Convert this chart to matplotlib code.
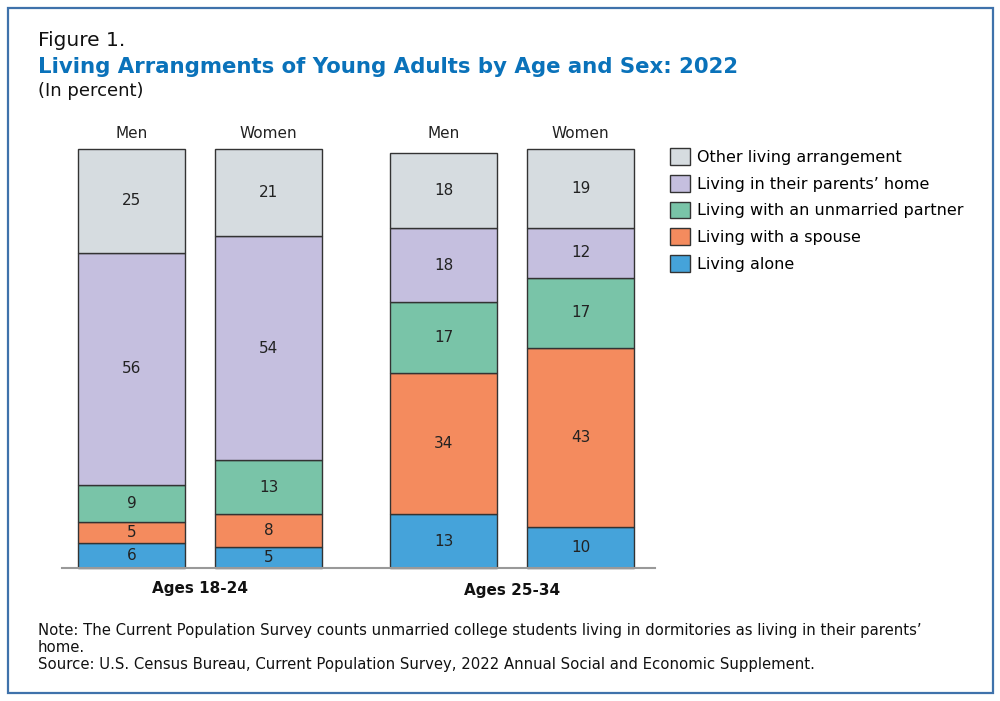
import numpy as np
import matplotlib.pyplot as plt
from matplotlib.patches import Rectangle, Patch

# --- data (percent) ---
bar_labels = ["Men", "Women", "Men", "Women"]
group_labels = ["Ages 18-24", "Ages 25-34"]
categories = ["Living alone", "Living with a spouse", "Living with an unmarried partner",
              "Living in their parents\u2019 home", "Other living arrangement"]
living_alone = [6, 5, 13, 10]
with_spouse = [5, 8, 34, 43]
unmarried_partner = [9, 13, 17, 17]
parents_home = [56, 54, 18, 12]
other = [25, 21, 18, 19]

colors = ["#45a3da", "#f48b5e", "#79c4a8", "#c5bfdf", "#d6dce0"]
series = [living_alone, with_spouse, unmarried_partner, parents_home, other]

plt.rcParams['font.family'] = ['DejaVu Sans']

fig = plt.figure(figsize=(10, 7.01), dpi=100)
W, H = 1000, 701

# outer border
fig.patches.append(Rectangle((8 / W, 1 - 693 / H), 985 / W, 685 / H, transform=fig.transFigure,
                             fill=False, edgecolor="#3f72ab", lw=1.6))

ax = fig.add_axes([62 / W, 1 - 568 / H, (655 - 62) / W, (568 - 151) / H])
x = np.array([0, 1, 2.277, 3.277])
width = 0.78
bottom = np.zeros(4)
for vals, col in zip(series, colors):
    vals = np.array(vals)
    ax.bar(x, vals, width, bottom=bottom, color=col, edgecolor="#333333", lw=1.0, clip_on=False)
    for xi, b, v in zip(x, bottom, vals):
        ax.text(xi, b + v / 2, str(v), ha="center", va="center", fontsize=11, color="#222222")
    bottom += vals

ax.set_xlim(-0.507, 3.82)
ax.set_ylim(0, 100.5)
for s in ["top", "right", "left"]:
    ax.spines[s].set_visible(False)
ax.spines["bottom"].set_color("#999999")
ax.spines["bottom"].set_linewidth(1.5)
ax.set_xticks([])
ax.set_yticks([])

for xi, lab in zip(x, bar_labels):
    ax.text(xi, 101 + 3.6, lab, ha="center", va="center", fontsize=11, color="#222222")

ax.text((x[0] + x[1]) / 2, -5, group_labels[0], ha="center", va="center",
        fontsize=11, fontweight="bold", color="#111111")
ax.text((x[2] + x[3]) / 2, -5.5, group_labels[1], ha="center", va="center",
        fontsize=11, fontweight="bold", color="#111111")

# legend
handles = [Patch(facecolor=c, edgecolor="#333333", lw=1.0, label=l)
           for c, l in zip(colors[::-1], categories[::-1])]
fig.legend(handles=handles, loc="upper left", bbox_to_anchor=(670 / W, 1 - 148 / H),
           frameon=False, fontsize=11.5, handlelength=1.25, handleheight=1.25,
           handletextpad=0.45, labelspacing=0.62, borderaxespad=0, borderpad=0)

# titles
fig.text(38 / W, 1 - 40 / H, "Figure 1.", fontsize=14.5, va="center", color="#111111")
fig.text(38 / W, 1 - 67 / H, "Living Arrangments of Young Adults by Age and Sex: 2022",
         fontsize=15.3, fontweight="bold", va="center", color="#0a72ba")
fig.text(38 / W, 1 - 91 / H, "(In percent)", fontsize=13, va="center", color="#111111")

# notes
fig.text(38 / W, 1 - 631 / H,
         "Note: The Current Population Survey counts unmarried college students living in dormitories as living in their parents\u2019",
         fontsize=10.7, va="center", color="#111111")
fig.text(38 / W, 1 - 648 / H, "home.", fontsize=10.7, va="center", color="#111111")
fig.text(38 / W, 1 - 664 / H,
         "Source: U.S. Census Bureau, Current Population Survey, 2022 Annual Social and Economic Supplement.",
         fontsize=10.7, va="center", color="#111111")

fig.savefig("out.png", dpi=100)
